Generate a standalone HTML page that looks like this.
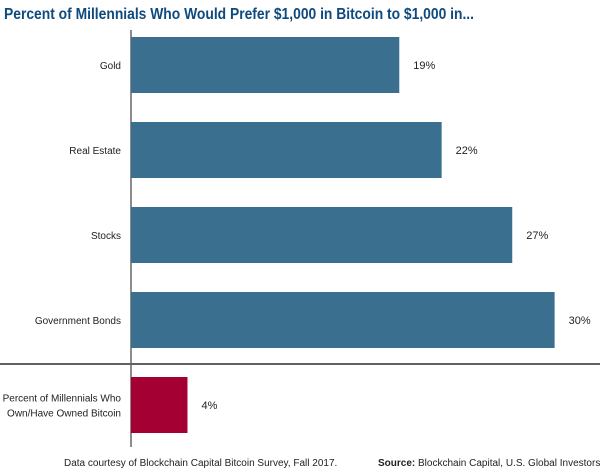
<!DOCTYPE html>
<html><head><meta charset="utf-8"><style>
body{margin:0;background:#fff;}
svg{display:block;font-family:"Liberation Sans",sans-serif;}
</style></head><body>
<svg id="c" width="600" height="472">
<text x="4" y="19" font-size="15.5" font-weight="bold" fill="#0e4a7e" textLength="470" lengthAdjust="spacingAndGlyphs">Percent of Millennials Who Would Prefer $1,000 in Bitcoin to $1,000 in...</text>
<line x1="0" y1="364" x2="600" y2="364" stroke="#000" stroke-width="1.2"/>
<line x1="131" y1="30" x2="131" y2="447" stroke="#666" stroke-width="1.5"/>
<text x="64" y="466" font-size="10" fill="#222">Data courtesy of Blockchain Capital Bitcoin Survey, Fall 2017.</text>
<text x="378" y="466" font-size="10" fill="#222"><tspan font-weight="bold">Source:</tspan> Blockchain Capital, U.S. Global Investors</text>
</svg>
<script>
const categories=["Gold","Real Estate","Stocks","Government Bonds","Percent of Millennials Who|Own/Have Owned Bitcoin"];
const values=[19,22,27,30,4];
const labels=["19%","22%","27%","30%","4%"];
const svg=document.getElementById('c');
const NS="http://www.w3.org/2000/svg";
const x0=131,scale=14.12;
function xs(v){return x0+v*scale;}
function ys(i){return 37+i*85;}
const bh=56;
values.forEach((v,i)=>{
  const r=document.createElementNS(NS,'rect');
  r.setAttribute('x',x0);r.setAttribute('y',ys(i));
  r.setAttribute('width',xs(v)-x0);r.setAttribute('height',bh);
  r.setAttribute('fill',i===4?'#a50034':'#3b6f8f');
  
  
  svg.appendChild(r);
  const t=document.createElementNS(NS,'text');
  t.setAttribute('x',xs(v)+14);t.setAttribute('y',ys(i)+bh/2+4);
  t.setAttribute('font-size','11');t.setAttribute('fill','#222');
  t.textContent=labels[i];
  
  
  svg.appendChild(t);
  const parts=categories[i].split('|');
  parts.forEach((p,j)=>{
    const c=document.createElementNS(NS,'text');
    c.setAttribute('x',121);
    c.setAttribute('y',ys(i)+bh/2+4+(j-(parts.length-1)/2)*15);
    c.setAttribute('text-anchor','end');c.setAttribute('font-size','10');c.setAttribute('fill','#222');
    c.textContent=p;
    
    
    svg.appendChild(c);
  });
});
</script>
</body></html>
